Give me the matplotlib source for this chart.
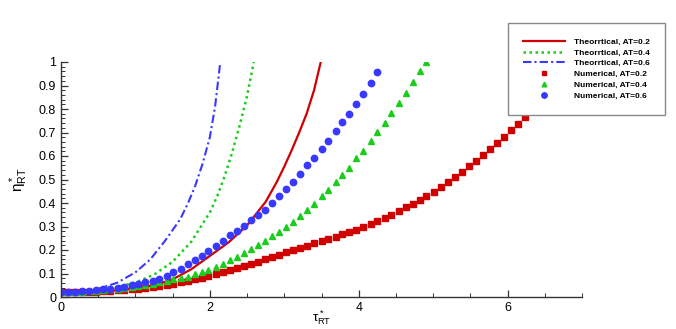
import matplotlib
matplotlib.use("Agg")
import matplotlib.pyplot as plt
from matplotlib.ticker import MultipleLocator

plt.rcParams["font.family"] = ["Liberation Sans", "DejaVu Sans"]
plt.rcParams["mathtext.fontset"] = "custom"
plt.rcParams["mathtext.rm"] = "Liberation Sans"
plt.rcParams["mathtext.it"] = "Liberation Sans"

# theoretical curves
tau_th_02 = [0, 0.25, 0.5, 0.75, 1.0, 1.25, 1.5, 1.75, 2.0, 2.25, 2.5, 2.75, 2.9, 3.0, 3.1, 3.2,
             3.3, 3.4, 3.49]
eta_th_02 = [0.020, 0.021, 0.024, 0.029, 0.037, 0.050, 0.075, 0.118, 0.175, 0.232, 0.305, 0.405,
             0.490, 0.555, 0.625, 0.700, 0.780, 0.880, 1.0]
tau_th_04 = [0, 0.25, 0.5, 0.75, 1.0, 1.25, 1.5, 1.75, 2.0, 2.1, 2.2, 2.3, 2.4, 2.5, 2.59]
eta_th_04 = [0.020, 0.023, 0.030, 0.042, 0.062, 0.095, 0.150, 0.235, 0.360, 0.430, 0.515, 0.615,
             0.730, 0.855, 1.0]
tau_th_06 = [0, 0.25, 0.5, 0.75, 1.0, 1.2, 1.4, 1.6, 1.7, 1.8, 1.9, 2.0, 2.07, 2.14]
eta_th_06 = [0.020, 0.025, 0.035, 0.060, 0.105, 0.160, 0.240, 0.330, 0.395, 0.470, 0.565, 0.680,
             0.810, 1.0]

# numerical results (same time sampling for all three runs)
tau_num = [0.00, 0.09, 0.19, 0.28, 0.38, 0.47, 0.57, 0.66, 0.76, 0.85,
           0.95, 1.04, 1.13, 1.23, 1.32, 1.42, 1.51, 1.61, 1.70, 1.80,
           1.89, 1.98, 2.08, 2.17, 2.27, 2.36, 2.46, 2.55, 2.65, 2.74,
           2.84, 2.93, 3.02, 3.12, 3.21, 3.31, 3.40, 3.50, 3.59, 3.69,
           3.78, 3.87, 3.97, 4.06, 4.16, 4.25, 4.35, 4.44, 4.54, 4.63,
           4.73, 4.82, 4.91, 5.01, 5.10, 5.20, 5.29, 5.39, 5.48, 5.58,
           5.67, 5.76, 5.86, 5.95, 6.05, 6.14, 6.24, 6.33, 6.43, 6.52, 6.62]
eta_num_02 = [0.020, 0.020, 0.021, 0.021, 0.022, 0.023, 0.024, 0.026, 0.028, 0.030,
              0.033, 0.036, 0.039, 0.042, 0.046, 0.051, 0.056, 0.062, 0.068, 0.075,
              0.082, 0.090, 0.098, 0.106, 0.114, 0.122, 0.131, 0.140, 0.150, 0.160,
              0.170, 0.180, 0.191, 0.201, 0.210, 0.219, 0.228, 0.237, 0.246, 0.256,
              0.266, 0.276, 0.287, 0.299, 0.312, 0.325, 0.338, 0.351, 0.366, 0.381,
              0.397, 0.413, 0.429, 0.447, 0.467, 0.488, 0.509, 0.532, 0.556, 0.580,
              0.605, 0.629, 0.656, 0.682, 0.711, 0.738, 0.766, 0.797, 0.829, 0.862, 0.896]
eta_num_04 = [0.020, 0.021, 0.022, 0.023, 0.025, 0.027, 0.029, 0.032, 0.035, 0.038,
              0.042, 0.046, 0.051, 0.057, 0.062, 0.069, 0.075, 0.080, 0.086, 0.096,
              0.105, 0.116, 0.129, 0.142, 0.156, 0.171, 0.188, 0.203, 0.222, 0.239,
              0.259, 0.278, 0.298, 0.320, 0.344, 0.371, 0.395, 0.428, 0.454, 0.488,
              0.521, 0.551, 0.592, 0.621, 0.664, 0.704, 0.742, 0.783, 0.824, 0.866,
              0.916, 0.962, 1.000]
eta_num_06 = [0.020, 0.021, 0.022, 0.024, 0.026, 0.029, 0.032, 0.035, 0.039, 0.044,
              0.050, 0.056, 0.062, 0.070, 0.078, 0.090, 0.105, 0.121, 0.139, 0.158,
              0.176, 0.196, 0.218, 0.238, 0.262, 0.280, 0.304, 0.326, 0.350, 0.372,
              0.400, 0.430, 0.459, 0.491, 0.523, 0.561, 0.593, 0.630, 0.664, 0.705,
              0.744, 0.778, 0.820, 0.862, 0.911, 0.958]

RED = "#d00000"
GREEN = "#1ccc1c"
BLUE = "#3838ff"

fig = plt.figure(figsize=(6.76, 3.29), dpi=100)
ax = fig.add_axes([61 / 676, 32 / 329, 521 / 676, 235 / 329])

l1, = ax.plot(tau_th_02, eta_th_02, color=RED, lw=1.6, label="Theorrtical, AT=0.2")
l2, = ax.plot(tau_th_04, eta_th_04, color=GREEN, lw=1.8, ls=(0, (1, 1.4)),
              label="Theorrtical, AT=0.4")
l3, = ax.plot(tau_th_06, eta_th_06, color=BLUE, lw=1.5, ls=(0, (4, 1.5, 1, 1.5)),
              label="Theorrtical, AT=0.6")
m1, = ax.plot(tau_num[:len(eta_num_02)], eta_num_02, ls="none", marker="s", ms=3.7,
              color=RED, mec=RED, label="Numerical, AT=0.2")
m2, = ax.plot(tau_num[:len(eta_num_04)], eta_num_04, ls="none", marker="^", ms=4,
              color=GREEN, mec=GREEN, label="Numerical, AT=0.4")
m3, = ax.plot(tau_num[:len(eta_num_06)], eta_num_06, ls="none", marker="o", ms=4.6,
              color=BLUE, mec=BLUE, label="Numerical, AT=0.6")

ax.set_xlim(0, 7)
ax.set_ylim(0, 1)
ax.xaxis.set_minor_locator(MultipleLocator(0.5))
ax.yaxis.set_minor_locator(MultipleLocator(0.02))
ax.set_yticks([0, 0.1, 0.2, 0.3, 0.4, 0.5, 0.6, 0.7, 0.8, 0.9, 1.0])
ax.set_yticklabels(["0", "0.1", "0.2", "0.3", "0.4", "0.5", "0.6", "0.7", "0.8", "0.9", "1"])
ax.set_xticks([0, 2, 4, 6])
ax.set_xticklabels(["0", "2", "4", "6"])
ax.tick_params(which="both", direction="in", colors="#333333", labelcolor="black",
               labelsize=9)
ax.tick_params(which="major", length=5, width=0.9)
ax.tick_params(which="minor", length=3, width=0.7)
for side in ("top", "right"):
    ax.spines[side].set_visible(False)
for side in ("left", "bottom"):
    ax.spines[side].set_color("#333333")
    ax.spines[side].set_linewidth(1.0)

ax.set_ylabel(r"$\eta^*_{RT}$", fontsize=11, labelpad=6)
ax.set_xlabel(r"$\tau^*_{RT}$", fontsize=9.5, va="bottom")
ax.xaxis.set_label_coords(0.5, -0.128)

leg = fig.legend(handles=[l1, l2, l3, m1, m2, m3], loc="upper left",
                 bbox_to_anchor=(508 / 676, 1 - 23 / 329),
                 prop={"weight": "bold", "size": 6}, frameon=True, fancybox=False,
                 framealpha=1.0, borderpad=1.8, labelspacing=0.35, handlelength=5.0,
                 handletextpad=1.1, borderaxespad=0, numpoints=1, markerscale=0.85)
leg.get_frame().set_edgecolor("#888888")
leg.get_frame().set_linewidth(1.0)
leg.set_zorder(10)

fig.savefig("out.png", dpi=100)
